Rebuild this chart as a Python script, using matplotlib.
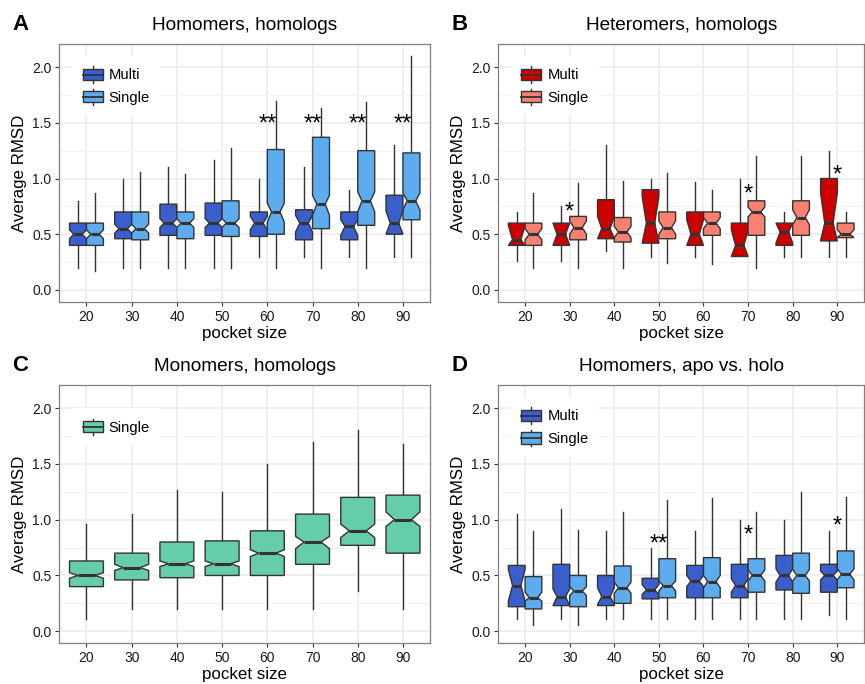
import matplotlib
matplotlib.use("Agg")
import matplotlib.pyplot as plt
from matplotlib.legend_handler import HandlerBase
from matplotlib.patches import Rectangle, Patch
from matplotlib.lines import Line2D
from matplotlib.ticker import MultipleLocator, FormatStrFormatter

plt.rcParams["font.family"] = ["Liberation Sans", "DejaVu Sans"]

POCKET_SIZES = [20, 30, 40, 50, 60, 70, 80, 90]

# each row: (whisker low, q1, median, q3, whisker high, notch low, notch high)
A_MULTI = [(0.20, 0.40, 0.50, 0.60, 0.80, 0.46, 0.54),
           (0.20, 0.46, 0.55, 0.70, 1.00, 0.51, 0.59),
           (0.20, 0.49, 0.60, 0.77, 1.10, 0.56, 0.64),
           (0.20, 0.49, 0.60, 0.78, 1.17, 0.56, 0.64),
           (0.30, 0.48, 0.60, 0.70, 1.00, 0.54, 0.66),
           (0.30, 0.45, 0.60, 0.72, 1.10, 0.52, 0.67),
           (0.30, 0.45, 0.57, 0.70, 0.90, 0.49, 0.63),
           (0.30, 0.50, 0.60, 0.85, 1.30, 0.50, 0.71)]
A_SINGLE = [(0.17, 0.40, 0.50, 0.60, 0.87, 0.46, 0.54),
            (0.20, 0.45, 0.55, 0.70, 1.06, 0.51, 0.59),
            (0.20, 0.46, 0.60, 0.70, 1.04, 0.56, 0.64),
            (0.20, 0.48, 0.60, 0.80, 1.27, 0.56, 0.64),
            (0.20, 0.50, 0.70, 1.26, 1.70, 0.61, 0.78),
            (0.20, 0.55, 0.77, 1.37, 1.63, 0.67, 0.85),
            (0.20, 0.58, 0.80, 1.25, 1.69, 0.70, 0.88),
            (0.30, 0.63, 0.80, 1.23, 2.10, 0.72, 0.87)]
A_STARS = ["", "", "", "", "**", "**", "**", "**"]
A_STAR_Y = [0, 0, 0, 0, 1.54, 1.54, 1.54, 1.54]

B_MULTI = [(0.26, 0.40, 0.45, 0.60, 0.70, 0.40, 0.58),
           (0.26, 0.40, 0.50, 0.60, 0.75, 0.40, 0.60),
           (0.35, 0.46, 0.55, 0.81, 1.30, 0.46, 0.66),
           (0.30, 0.42, 0.60, 0.90, 1.00, 0.42, 0.84),
           (0.30, 0.40, 0.50, 0.70, 0.97, 0.40, 0.63),
           (0.30, 0.30, 0.40, 0.60, 1.00, 0.30, 0.54),
           (0.30, 0.40, 0.52, 0.60, 0.70, 0.42, 0.60),
           (0.30, 0.44, 0.60, 1.00, 1.25, 0.44, 0.87)]
B_SINGLE = [(0.20, 0.40, 0.50, 0.60, 0.87, 0.45, 0.55),
            (0.20, 0.45, 0.56, 0.66, 0.96, 0.50, 0.62),
            (0.20, 0.43, 0.52, 0.65, 0.98, 0.47, 0.57),
            (0.24, 0.46, 0.56, 0.70, 1.05, 0.50, 0.62),
            (0.23, 0.49, 0.60, 0.70, 0.90, 0.55, 0.65),
            (0.20, 0.49, 0.70, 0.80, 1.20, 0.655, 0.745),
            (0.30, 0.49, 0.65, 0.80, 1.20, 0.585, 0.72),
            (0.30, 0.47, 0.50, 0.60, 0.70, 0.47, 0.54)]
B_STARS = ["", "*", "", "", "", "*", "", "*"]
B_STAR_Y = [0, 0.757, 0, 0, 0, 0.913, 0, 1.084]

C_SINGLE = [(0.11, 0.40, 0.50, 0.63, 0.96, 0.475, 0.525),
            (0.20, 0.46, 0.57, 0.70, 1.05, 0.545, 0.60),
            (0.20, 0.48, 0.605, 0.80, 1.27, 0.58, 0.63),
            (0.20, 0.50, 0.605, 0.81, 1.25, 0.58, 0.63),
            (0.20, 0.50, 0.70, 0.90, 1.50, 0.67, 0.73),
            (0.20, 0.60, 0.80, 1.05, 1.70, 0.74, 0.85),
            (0.36, 0.77, 0.90, 1.20, 1.80, 0.84, 0.96),
            (0.20, 0.70, 1.00, 1.22, 1.68, 0.94, 1.07)]

D_MULTI = [(0.11, 0.22, 0.41, 0.59, 1.05, 0.27, 0.555),
           (0.11, 0.23, 0.31, 0.60, 1.10, 0.23, 0.38),
           (0.11, 0.23, 0.31, 0.50, 0.90, 0.24, 0.39),
           (0.11, 0.29, 0.37, 0.475, 0.75, 0.33, 0.42),
           (0.11, 0.30, 0.45, 0.59, 0.90, 0.40, 0.50),
           (0.11, 0.30, 0.41, 0.60, 1.00, 0.35, 0.47),
           (0.11, 0.37, 0.50, 0.68, 1.00, 0.44, 0.56),
           (0.15, 0.35, 0.50, 0.60, 0.90, 0.46, 0.54)]
D_SINGLE = [(0.06, 0.20, 0.30, 0.49, 0.90, 0.27, 0.35),
            (0.06, 0.22, 0.36, 0.50, 0.905, 0.32, 0.40),
            (0.11, 0.25, 0.39, 0.585, 1.065, 0.34, 0.44),
            (0.11, 0.30, 0.41, 0.65, 1.18, 0.36, 0.45),
            (0.11, 0.30, 0.445, 0.66, 1.19, 0.39, 0.50),
            (0.11, 0.35, 0.50, 0.65, 1.065, 0.45, 0.55),
            (0.11, 0.34, 0.50, 0.70, 1.25, 0.45, 0.555),
            (0.11, 0.39, 0.51, 0.72, 1.20, 0.46, 0.56)]
D_STARS = ["", "", "", "**", "", "*", "", "*"]
D_STAR_Y = [0, 0, 0, 0.837, 0, 0.917, 0, 1.0]

EDGE = "#333333"
BLUE_DARK, BLUE_LIGHT = "#3A5FCD", "#5CACEE"
RED_DARK, RED_LIGHT = "#CD0000", "#FA8072"
GREEN = "#66CDAA"


class BoxKey(HandlerBase):
    """Small boxplot glyph for legend keys (ggplot style)."""
    def create_artists(self, legend, orig_handle, xdescent, ydescent,
                       width, height, fontsize, trans):
        fc = orig_handle.get_facecolor()
        x0, y0 = -xdescent, -ydescent
        box_h = height * 0.68
        by = y0 + (height - box_h) / 2
        cx = x0 + width / 2
        whisk = Line2D([cx, cx], [y0, y0 + height], color=EDGE, lw=1.0,
                       transform=trans)
        box = Rectangle((x0, by), width, box_h, facecolor=fc,
                        edgecolor=EDGE, lw=1.0, transform=trans)
        med = Line2D([x0, x0 + width], [y0 + height / 2] * 2, color=EDGE,
                     lw=1.3, transform=trans)
        return [whisk, box, med]


def to_stats(rows):
    return [dict(whislo=r[0], q1=r[1], med=r[2], q3=r[3], whishi=r[4],
                 cilo=r[5], cihi=r[6], fliers=[]) for r in rows]


def draw_panel(ax, series, title, stars=None, star_y=None):
    n = len(series)
    width = 0.75 / n
    centers = list(range(1, len(POCKET_SIZES) + 1))
    handles = []
    for k, (name, rows, color) in enumerate(series):
        offset = (k - (n - 1) / 2) * width
        res = ax.bxp(to_stats(rows), positions=[c + offset for c in centers],
                     widths=width, shownotches=True, patch_artist=True,
                     showcaps=False, showfliers=False,
                     boxprops=dict(facecolor=color, edgecolor=EDGE, lw=1.0),
                     whiskerprops=dict(color=EDGE, lw=1.0),
                     medianprops=dict(color=EDGE, lw=2.2))
        for b in res["boxes"]:
            b.set_zorder(2.5)
        for m in res["medians"]:
            m.set_zorder(2.6)
        handles.append(Patch(facecolor=color, label=name))

    if stars is not None:
        for c, s, y in zip(centers, stars, star_y):
            if s:
                ax.annotate(s, (c, y), xytext=(0, -9.0),
                            textcoords="offset points", ha="center",
                            va="baseline", fontsize=17, color="black")

    ax.set_xlim(0.4, 8.6)
    ax.set_ylim(-0.108, 2.205)
    ax.set_xticks(centers)
    ax.set_xticklabels([str(s) for s in POCKET_SIZES])
    ax.yaxis.set_major_locator(MultipleLocator(0.5))
    ax.yaxis.set_minor_locator(MultipleLocator(0.25))
    ax.yaxis.set_major_formatter(FormatStrFormatter("%.1f"))
    ax.tick_params(which="major", direction="out", length=2.75, width=0.8,
                   color=EDGE, labelsize=10, labelcolor="#1a1a1a", pad=3.0)
    ax.tick_params(which="minor", length=0)
    ax.grid(which="major", color="#EBEBEB", lw=1.1)
    ax.grid(which="minor", axis="y", color="#F2F2F2", lw=0.7)
    ax.set_axisbelow(True)
    for sp in ax.spines.values():
        sp.set_color("#7F7F7F")
        sp.set_linewidth(0.9)
    ax.set_xlabel("pocket size", fontsize=12.2, labelpad=1.5)
    ax.set_ylabel("Average RMSD", fontsize=12.2, labelpad=3.5)
    ax.set_title(title, fontsize=13.7, pad=10.3)

    ax.legend(handles=handles, handler_map={Patch: BoxKey()},
              loc="center left", bbox_to_anchor=(0.035, 0.839),
              fontsize=10.6, handlelength=1.36, handleheight=1.32,
              labelspacing=0.42, handletextpad=0.4, borderpad=0.7,
              borderaxespad=0, frameon=True, fancybox=False,
              edgecolor="none", facecolor="white", framealpha=1)


fig = plt.figure(figsize=(8.65, 6.84), dpi=100)
ax_a = fig.add_axes([0.0686, 0.5585, 0.4286, 0.3768])
ax_b = fig.add_axes([0.5761, 0.5585, 0.4228, 0.3768])
ax_c = fig.add_axes([0.0686, 0.0595, 0.4286, 0.3773])
ax_d = fig.add_axes([0.5761, 0.0595, 0.4228, 0.3773])

draw_panel(ax_a, [("Multi", A_MULTI, BLUE_DARK), ("Single", A_SINGLE, BLUE_LIGHT)],
           "Homomers, homologs", A_STARS, A_STAR_Y)
draw_panel(ax_b, [("Multi", B_MULTI, RED_DARK), ("Single", B_SINGLE, RED_LIGHT)],
           "Heteromers, homologs", B_STARS, B_STAR_Y)
draw_panel(ax_c, [("Single", C_SINGLE, GREEN)], "Monomers, homologs")
draw_panel(ax_d, [("Multi", D_MULTI, BLUE_DARK), ("Single", D_SINGLE, BLUE_LIGHT)],
           "Homomers, apo vs. holo", D_STARS, D_STAR_Y)

for letter, x, y in [("A", 12, 30), ("B", 452, 30), ("C", 12, 371), ("D", 452, 371)]:
    fig.text(x / 865, 1 - y / 684, letter, fontsize=16, fontweight="bold",
             va="baseline", ha="left")

fig.savefig("out.png", dpi=100)
plt.close("all")
